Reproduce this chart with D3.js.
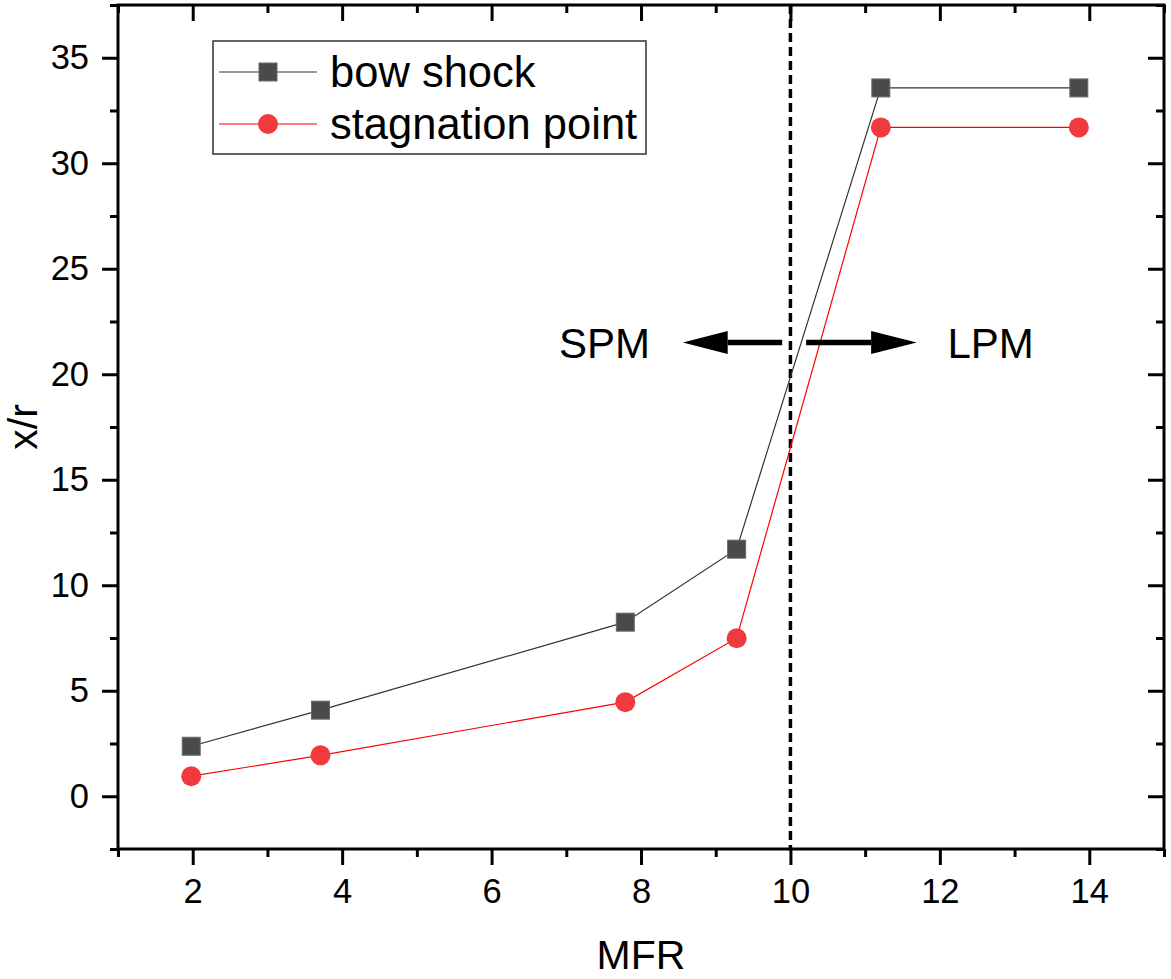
<!DOCTYPE html>
<html><head><meta charset="utf-8">
<script src="https://cdn.jsdelivr.net/npm/d3@7"></script>
<style>body{margin:0;background:#fff}svg{display:block}text{font-family:"Liberation Sans",Arial,sans-serif;fill:#000}</style>
</head><body><svg id="c" width="1171" height="979"></svg>
<script>
const mfr = [1.98, 3.71, 7.79, 9.28, 11.21, 13.86];
const bowShock = [2.37, 4.08, 8.25, 11.71, 33.57, 33.57];
const stagnation = [0.95, 1.94, 4.46, 7.49, 31.7, 31.7];
const seriesNames = ["bow shock", "stagnation point"];
const xTicks = [2, 4, 6, 8, 10, 12, 14];
const yTicks = [0, 5, 10, 15, 20, 25, 30, 35];
const divider = 10;
const regimeLabels = ["SPM", "LPM"];

const svg = d3.select("#c");
const L = 118, T = 5, R = 1164, B = 849;
const x = d3.scaleLinear().domain([1, 15]).range([L, R]);
const y = d3.scaleLinear().domain([-2.5, 37.5]).range([B, T]);
const xMinor = d3.range(1, 15.01, 2);
const yMinor = d3.range(-2.5, 37.6, 5);

function styleAxis(g){
  g.select(".domain").remove();
  g.selectAll(".tick line").attr("stroke", "#000").attr("stroke-width", 3);
  g.selectAll(".tick text").style("font-size", "34.5px").style("font-family", '"Liberation Sans",Arial,sans-serif');
}
// bottom
svg.append("g").attr("transform", `translate(0,${B})`)
  .call(d3.axisBottom(x).tickValues(xTicks).tickFormat(d3.format("d")).tickSize(16).tickPadding(14))
  .call(styleAxis);
svg.append("g").attr("transform", `translate(0,${B})`)
  .call(d3.axisBottom(x).tickValues(xMinor).tickFormat("").tickSize(8)).call(styleAxis);
// top (inward)
svg.append("g").attr("transform", `translate(0,${T})`)
  .call(d3.axisBottom(x).tickValues(xTicks).tickFormat("").tickSize(16)).call(styleAxis);
svg.append("g").attr("transform", `translate(0,${T})`)
  .call(d3.axisBottom(x).tickValues(xMinor).tickFormat("").tickSize(8)).call(styleAxis);
// left
svg.append("g").attr("transform", `translate(${L},0)`)
  .call(d3.axisLeft(y).tickValues(yTicks).tickFormat(d3.format("d")).tickSize(16).tickPadding(13))
  .call(styleAxis);
svg.append("g").attr("transform", `translate(${L},0)`)
  .call(d3.axisLeft(y).tickValues(yMinor).tickFormat("").tickSize(8)).call(styleAxis);
// right (inward)
svg.append("g").attr("transform", `translate(${R},0)`)
  .call(d3.axisLeft(y).tickValues(yTicks).tickFormat("").tickSize(16)).call(styleAxis);
svg.append("g").attr("transform", `translate(${R},0)`)
  .call(d3.axisLeft(y).tickValues(yMinor).tickFormat("").tickSize(8)).call(styleAxis);

// frame
svg.append("rect").attr("x", L).attr("y", T).attr("width", R - L).attr("height", B - T)
  .attr("fill", "none").attr("stroke", "#000").attr("stroke-width", 3);

// divider
svg.append("line").attr("x1", x(divider)).attr("x2", x(divider)).attr("y1", T).attr("y2", B)
  .attr("stroke", "#000").attr("stroke-width", 3.5).attr("stroke-dasharray", "9,5");

// lines
const line = d3.line().x(d => x(d[0])).y(d => y(d[1]));
const bowData = mfr.map((m, i) => [m, bowShock[i]]);
const stagData = mfr.map((m, i) => [m, stagnation[i]]);
svg.append("path").datum(bowData).attr("d", line).attr("fill", "none").attr("stroke", "#333").attr("stroke-width", 1.2);
svg.append("path").datum(stagData).attr("d", line).attr("fill", "none").attr("stroke", "#ff0000").attr("stroke-width", 1.2);

svg.selectAll(".sq").data(bowData).enter().append("rect")
  .attr("x", d => x(d[0]) - 9).attr("y", d => y(d[1]) - 9).attr("width", 18).attr("height", 18)
  .attr("fill", "#4a4a4a").attr("stroke", "#6a6a6a").attr("stroke-width", 1);
svg.selectAll(".ci").data(stagData).enter().append("circle")
  .attr("cx", d => x(d[0])).attr("cy", d => y(d[1])).attr("r", 10)
  .attr("fill", "#f03a3e");

// arrows
const ay = y(21.5);
function arrow(x0, xBase, xTip){
  svg.append("line").attr("x1", x(x0)).attr("x2", x(xBase)).attr("y1", ay).attr("y2", ay)
    .attr("stroke", "#000").attr("stroke-width", 5.5);
  svg.append("path").attr("d", `M${x(xTip)},${ay} L${x(xBase)},${ay - 11.5} L${x(xBase)},${ay + 11.5} Z`).attr("fill", "#000");
}
arrow(9.89, 9.16, 8.56);
arrow(10.21, 11.08, 11.69);
svg.append("text").attr("x", x(7.51)).attr("y", ay + 15).attr("text-anchor", "middle").style("font-size", "42px").text(regimeLabels[0]);
svg.append("text").attr("x", x(12.68)).attr("y", ay + 15).attr("text-anchor", "middle").style("font-size", "42px").text(regimeLabels[1]);

// legend
const lg = svg.append("g");
lg.append("rect").attr("x", 213).attr("y", 41).attr("width", 433).attr("height", 113)
  .attr("fill", "#fff").attr("stroke", "#333").attr("stroke-width", 1.5);
const ly = [72, 124];
lg.append("line").attr("x1", 219).attr("x2", 317).attr("y1", ly[0]).attr("y2", ly[0]).attr("stroke", "#333").attr("stroke-width", 1.2);
lg.append("rect").attr("x", 259).attr("y", ly[0] - 9).attr("width", 18).attr("height", 18).attr("fill", "#4a4a4a").attr("stroke", "#6a6a6a");
lg.append("line").attr("x1", 219).attr("x2", 317).attr("y1", ly[1]).attr("y2", ly[1]).attr("stroke", "#ff0000").attr("stroke-width", 1.2);
lg.append("circle").attr("cx", 268).attr("cy", ly[1]).attr("r", 10).attr("fill", "#f03a3e");
seriesNames.forEach((n, i) => {
  lg.append("text").attr("x", 330).attr("y", ly[i] + 15).style("font-size", "43.5px").text(n);
});

// axis titles
svg.append("text").attr("x", (L + R) / 2).attr("y", 969).attr("text-anchor", "middle").style("font-size", "41px").text("MFR");
svg.append("text").attr("transform", `translate(37,${(T + B) / 2}) rotate(-90)`).attr("text-anchor", "middle").style("font-size", "41px").text("x/r");
</script></body></html>
